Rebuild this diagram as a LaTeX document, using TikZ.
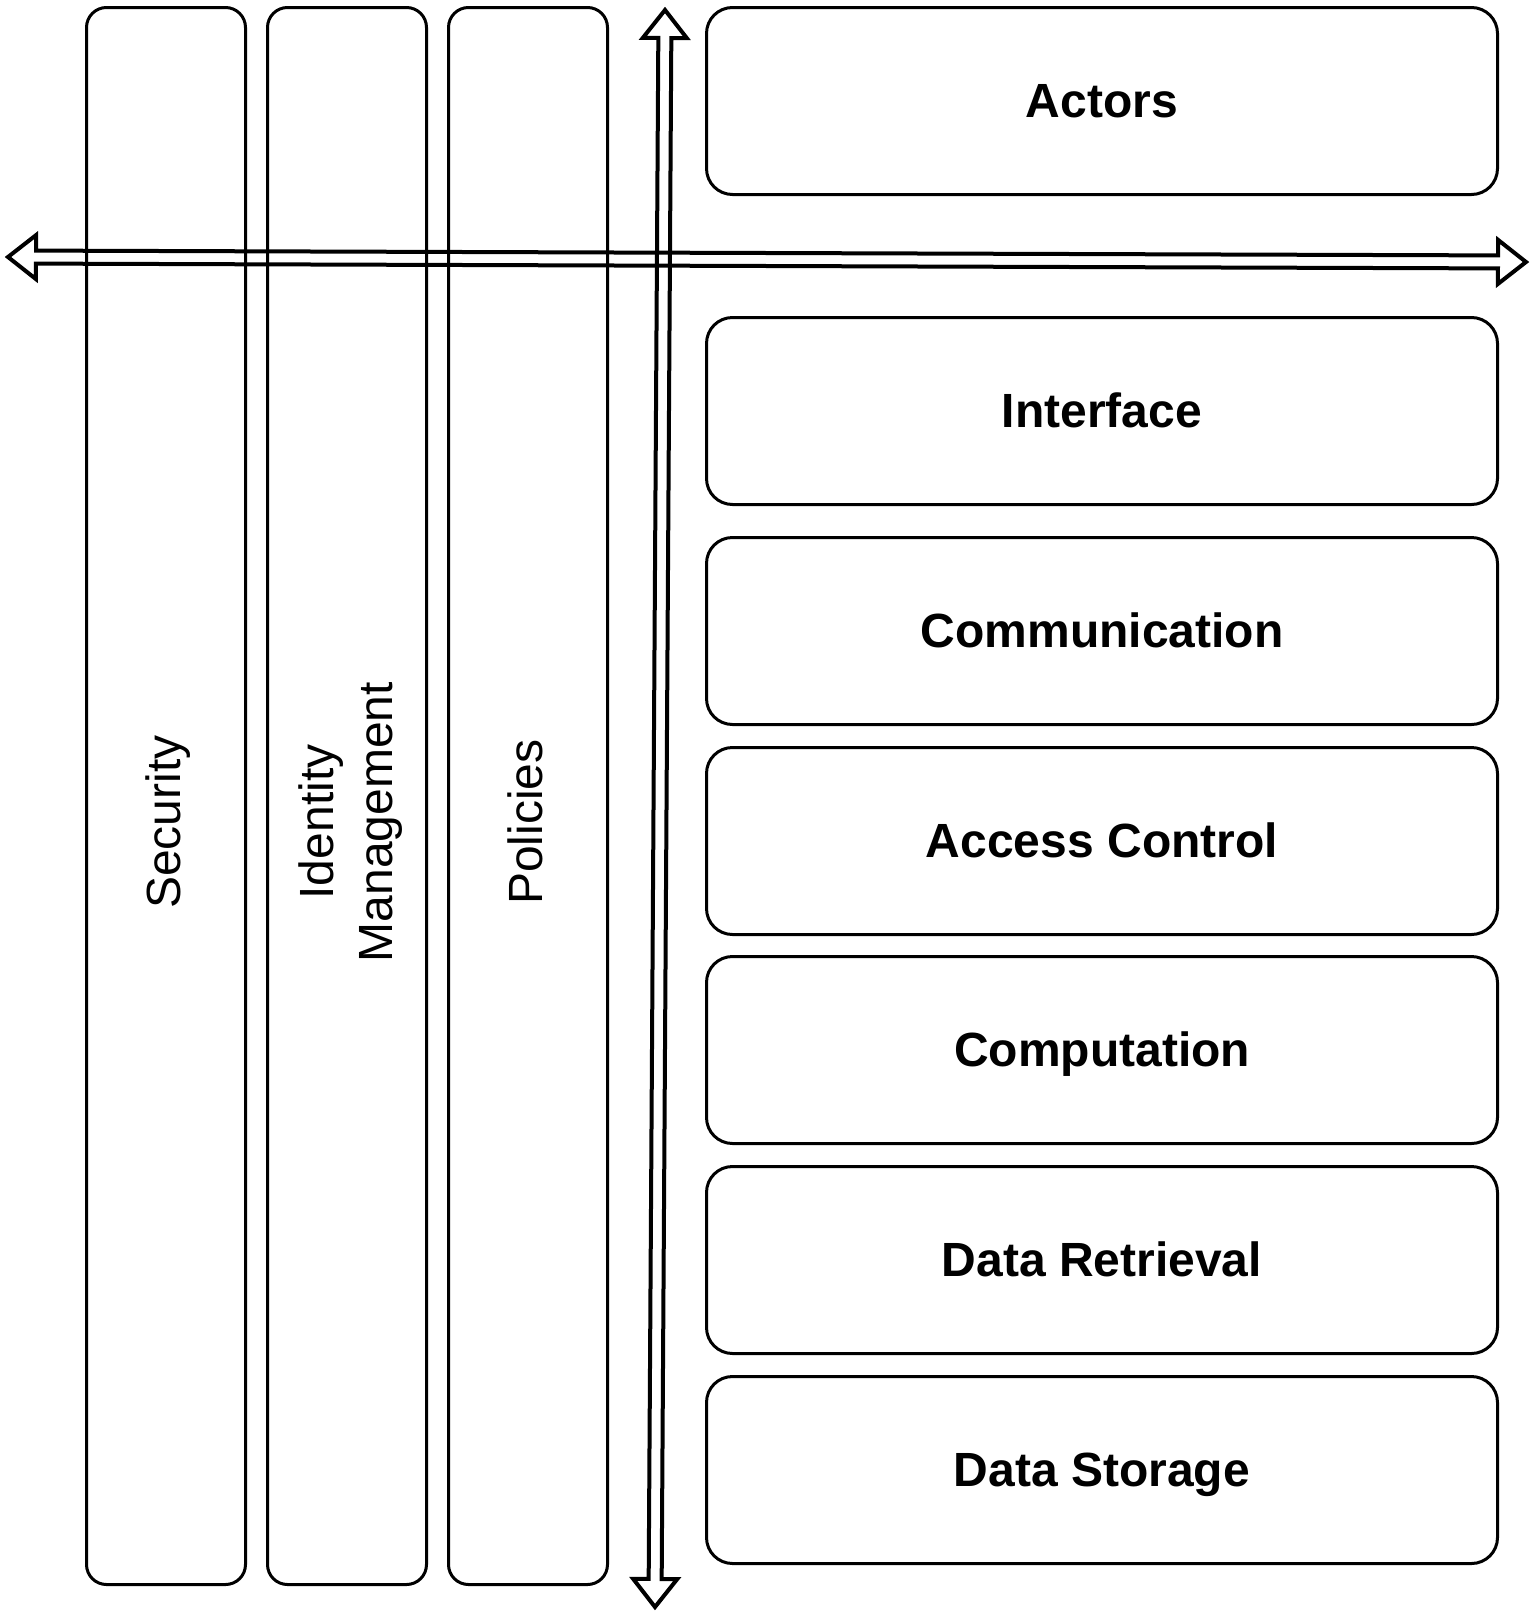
\documentclass[tikz,border=0pt]{standalone}
\usepackage{fontspec}
\setmainfont{Liberation Sans}
\usetikzlibrary{calc}
\tikzset{
  colbox/.style={draw, line width=3pt, rounded corners=20pt, minimum width=159pt, minimum height=1577pt, inner sep=0pt},
  layer/.style={draw, line width=3pt, rounded corners=26pt, minimum width=791pt, minimum height=187pt, inner sep=0pt,
    font=\fontsize{48}{57}\selectfont\bfseries, text height=33pt, text depth=0pt},
  collabel/.style={rotate=90, font=\fontsize{48}{59}\selectfont, inner sep=0pt, align=center},
  flex/.style={draw, line width=4pt, line join=miter},
}
\newcommand\flexarrow[2]{%
  \coordinate (#1-b) at ($(#1)!28pt!(#2)$);
  \coordinate (#2-b) at ($(#2)!28pt!(#1)$);
  \draw[flex] (#1)
    -- ($(#1-b)!22pt!90:(#2)$) -- ($(#1-b)!6.5pt!90:(#2)$)
    -- ($(#2-b)!6.5pt!-90:(#1)$) -- ($(#2-b)!22pt!-90:(#1)$)
    -- (#2)
    -- ($(#2-b)!22pt!90:(#1)$) -- ($(#2-b)!6.5pt!90:(#1)$)
    -- ($(#1-b)!6.5pt!-90:(#2)$) -- ($(#1-b)!22pt!-90:(#2)$)
    -- cycle;}
\begin{document}
\begin{tikzpicture}[x=1pt, y=-1pt]
\useasboundingbox (0,0) rectangle (1531,1617);

% vertical columns
\node[colbox] (sec) at (166,796) {};
\node[colbox] (idm) at (347,796) {};
\node[colbox] (pol) at (528,796) {};
\node[collabel, anchor=base] (secl) at (180,822) {Security};
\node[collabel] (idml) at (350.5,822) {Identity\\Management};
\node[collabel, anchor=base] (poll) at (542,822) {Policies};

% layers
\node[layer] (act) at (1102,101) {Actors};
\node[layer] (ifc) at (1102,411) {Interface};
\node[layer] (com) at (1102,631) {Communication};
\node[layer] (acc) at (1102,841) {Access Control};
\node[layer] (cmp) at (1102,1050) {Computation};
\node[layer] (ret) at (1102,1260) {Data Retrieval};
\node[layer] (sto) at (1102,1470) {Data Storage};

% double-headed flex arrows
\coordinate (hl) at (8,257);
\coordinate (hr) at (1526,262);
\coordinate (vt) at (665,10);
\coordinate (vb) at (655,1607);
\flexarrow{hl}{hr}
\flexarrow{vt}{vb}
\end{tikzpicture}
\end{document}
